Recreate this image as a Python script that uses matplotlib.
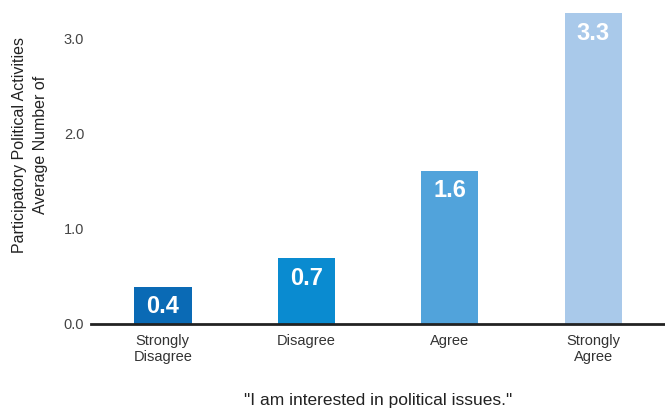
import matplotlib.pyplot as plt
import numpy as np

plt.rcParams['font.family'] = ['Liberation Sans', 'DejaVu Sans']

categories = ['Strongly\nDisagree', 'Disagree', 'Agree', 'Strongly\nAgree']
values = [0.39, 0.69, 1.61, 3.26]
colors = ['#0a6ab5', '#0a8bd0', '#51a3db', '#a9c9ea']

fig = plt.figure(figsize=(6.65, 4.08), dpi=100)
ax = fig.add_axes([0.137, 0.206, 0.863, 0.794])

x = np.arange(len(categories))
bars = ax.bar(x, values, width=0.4, color=colors, zorder=2)

for b, v in zip(bars, values):
    ax.annotate('%.1f' % v, (b.get_x() + b.get_width() / 2, v),
                xytext=(0, -6), textcoords='offset points',
                ha='center', va='top', color='white',
                fontsize=17, fontweight='bold')

ax.set_xlim(-0.5, 3.5)
ax.set_ylim(0, 3.4)
ax.set_yticks([0, 1, 2, 3])
ax.set_yticklabels(['0.0', '1.0', '2.0', '3.0'])
ax.set_xticks(x)
ax.set_xticklabels(categories, fontsize=10.5, color='#333333', linespacing=1.2)

for s in ['top', 'right', 'left']:
    ax.spines[s].set_visible(False)
ax.spines['bottom'].set_linewidth(2)
ax.spines['bottom'].set_color('#222222')
ax.tick_params(axis='y', length=0, pad=5, labelsize=10.5, labelcolor='#444444')
ax.tick_params(axis='x', length=0, pad=7)

# y label drawn as figure text so it sits where the reference has it
fig.text(0.045, 0.645, 'Participatory Political Activities\nAverage Number of',
         rotation=90, ha='center', va='center', multialignment='center',
         fontsize=11.5, color='#222222', linespacing=1.45)
ax.set_xlabel('"I am interested in political issues."', fontsize=12.5,
              color='#222222', labelpad=21)

fig.savefig('out.png', dpi=100)
